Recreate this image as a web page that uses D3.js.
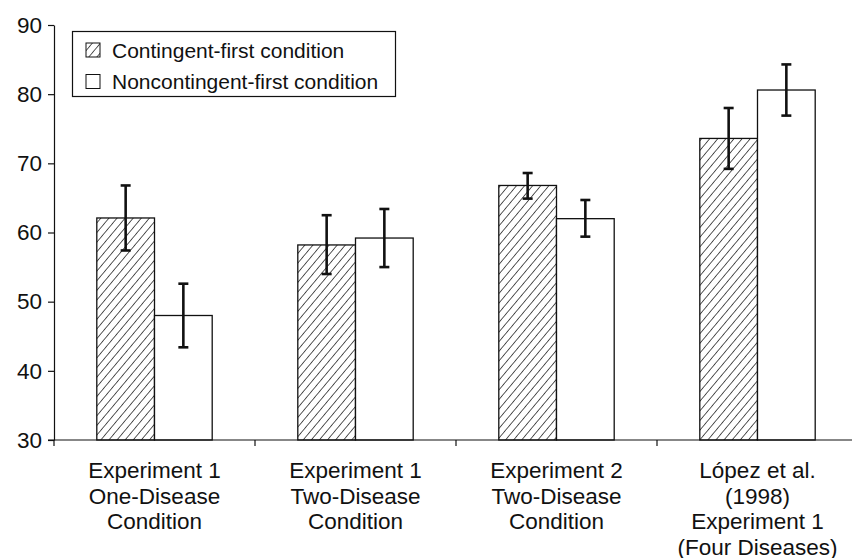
<!DOCTYPE html>
<html>
<head>
<meta charset="utf-8">
<script src="https://cdn.jsdelivr.net/npm/d3@7"></script>
<style>
  body { margin: 0; background: #fff; }
  svg text { font-family: "Liberation Sans", Arial, sans-serif; fill: #111; }
</style>
</head>
<body>
<div id="chartDiv"></div>
<script>
// category labels (multi-line)
var categories = [
    ["Experiment 1", "One-Disease", "Condition"],
    ["Experiment 1", "Two-Disease", "Condition"],
    ["Experiment 2", "Two-Disease", "Condition"],
    ["López et al.", "(1998)", "Experiment 1", "(Four Diseases)"]
];
var seriesNames = ["Contingent-first condition", "Noncontingent-first condition"];

// means and error bar ends
var contingentMean = [62.1, 58.2, 66.8, 73.6];
var contingentLow  = [57.4, 54.0, 64.9, 69.2];
var contingentHigh = [66.8, 62.5, 68.6, 78.0];

var noncontingentMean = [48.0, 59.2, 62.0, 80.6];
var noncontingentLow  = [43.4, 55.0, 59.4, 76.9];
var noncontingentHigh = [52.6, 63.4, 64.7, 84.3];

var yTicks = [30, 40, 50, 60, 70, 80, 90];

function buildChart() {
    var width = 852, height = 558;
    var padLeft = 54, padTop = 25, axisY = 440;

    var svg = d3.select("#chartDiv")
                .append("svg")
                .attr("width", width)
                .attr("height", height);

    // hatch pattern
    var defs = svg.append("defs");
    defs.append("pattern")
        .attr("id", "hatch")
        .attr("patternUnits", "userSpaceOnUse")
        .attr("width", 6.2)
        .attr("height", 6.2)
        .attr("patternTransform", "rotate(40)")
      .append("line")
        .attr("x1", 0).attr("y1", 0)
        .attr("x2", 0).attr("y2", 6.2)
        .attr("stroke", "#000")
        .attr("stroke-width", 1.3);

    var yScale = d3.scaleLinear()
                   .domain([30, 90])
                   .range([axisY, padTop]);

    var idx = d3.range(categories.length);
    var xScale = d3.scaleBand()
                   .domain(idx)
                   .range([padLeft, padLeft + 201 * 4]);

    var groupW = 115.4;
    var xSub = d3.scaleBand()
                 .domain([0, 1])
                 .range([(xScale.bandwidth() - groupW) / 2, (xScale.bandwidth() + groupW) / 2]);

    var data = [];
    for (var i = 0; i < idx.length; i++) {
        data.push({ c: i, s: 0, v: contingentMean[i], lo: contingentLow[i], hi: contingentHigh[i] });
        data.push({ c: i, s: 1, v: noncontingentMean[i], lo: noncontingentLow[i], hi: noncontingentHigh[i] });
    }

    // bars
    svg.selectAll("rect.bar")
       .data(data)
       .enter()
       .append("rect")
       .attr("class", "bar")
       .attr("x", function(d) { return xScale(d.c) + xSub(d.s); })
       .attr("y", function(d) { return yScale(d.v); })
       .attr("width", xSub.bandwidth())
       .attr("height", function(d) { return axisY - yScale(d.v); })
       .attr("fill", function(d) { return d.s === 0 ? "url(#hatch)" : "#fff"; })
       .attr("stroke", "#111")
       .attr("stroke-width", 1.3);

    // error bars
    function cx(d) { return xScale(d.c) + xSub(d.s) + xSub.bandwidth() / 2; }
    var eb = svg.selectAll("g.err")
                .data(data)
                .enter()
                .append("g")
                .attr("class", "err")
                .attr("stroke", "#111")
                .attr("stroke-width", 2.6);
    eb.append("line")
      .attr("x1", cx).attr("x2", cx)
      .attr("y1", function(d) { return yScale(d.lo); })
      .attr("y2", function(d) { return yScale(d.hi); });
    eb.append("line")
      .attr("x1", function(d) { return cx(d) - 5; }).attr("x2", function(d) { return cx(d) + 5; })
      .attr("y1", function(d) { return yScale(d.lo); })
      .attr("y2", function(d) { return yScale(d.lo); });
    eb.append("line")
      .attr("x1", function(d) { return cx(d) - 5; }).attr("x2", function(d) { return cx(d) + 5; })
      .attr("y1", function(d) { return yScale(d.hi); })
      .attr("y2", function(d) { return yScale(d.hi); });

    // y axis
    var yAxis = svg.append("g")
       .attr("transform", "translate(" + padLeft + ",0)")
       .call(d3.axisLeft(yScale).tickValues(yTicks).tickSize(6).tickPadding(6).tickSizeOuter(0));
    yAxis.select(".domain").attr("stroke", "#111").attr("stroke-width", 1.2);
    yAxis.selectAll(".tick line").attr("stroke", "#111").attr("stroke-width", 1.2);
    yAxis.selectAll(".tick text")
         .attr("font-size", 22.5)
         .attr("font-family", "Liberation Sans, Arial, sans-serif")
         .attr("fill", "#111");

    // x axis line and category ticks
    svg.append("line")
       .attr("x1", padLeft - 6).attr("x2", width)
       .attr("y1", axisY).attr("y2", axisY)
       .attr("stroke", "#111").attr("stroke-width", 1.2);
    svg.selectAll("line.cattick")
       .data(idx)
       .enter()
       .append("line")
       .attr("class", "cattick")
       .attr("x1", function(d) { return xScale(d); })
       .attr("x2", function(d) { return xScale(d); })
       .attr("y1", axisY).attr("y2", axisY + 6)
       .attr("stroke", "#111").attr("stroke-width", 1.2);

    // category labels
    var lbl = svg.selectAll("text.cat")
       .data(idx)
       .enter()
       .append("text")
       .attr("class", "cat")
       .attr("text-anchor", "middle")
       .attr("font-size", 22.5)
       .attr("transform", function(d) { return "translate(" + (xScale(d) + xScale.bandwidth() / 2) + ",0)"; });
    lbl.selectAll("tspan")
       .data(function(d) { return categories[d]; })
       .enter()
       .append("tspan")
       .attr("x", 0)
       .attr("y", function(d, i) { return 478 + i * 25.5; })
       .text(function(d) { return d; });

    // legend
    var lg = svg.append("g");
    lg.append("rect")
      .attr("x", 72.5).attr("y", 31.5)
      .attr("width", 323).attr("height", 65)
      .attr("fill", "#fff").attr("stroke", "#111").attr("stroke-width", 1.2);
    var items = lg.selectAll("g.item")
      .data(seriesNames)
      .enter()
      .append("g")
      .attr("class", "item")
      .attr("transform", function(d, i) { return "translate(86," + (50 + i * 31.5) + ")"; });
    items.append("rect")
      .attr("x", 0).attr("y", -7)
      .attr("width", 14).attr("height", 14)
      .attr("fill", function(d, i) { return i === 0 ? "url(#hatch)" : "#fff"; })
      .attr("stroke", "#111").attr("stroke-width", 1);
    items.append("text")
      .attr("x", 26).attr("y", 7.5)
      .attr("font-size", 21)
      .text(function(d) { return d; });
}
buildChart();
</script>
</body>
</html>
